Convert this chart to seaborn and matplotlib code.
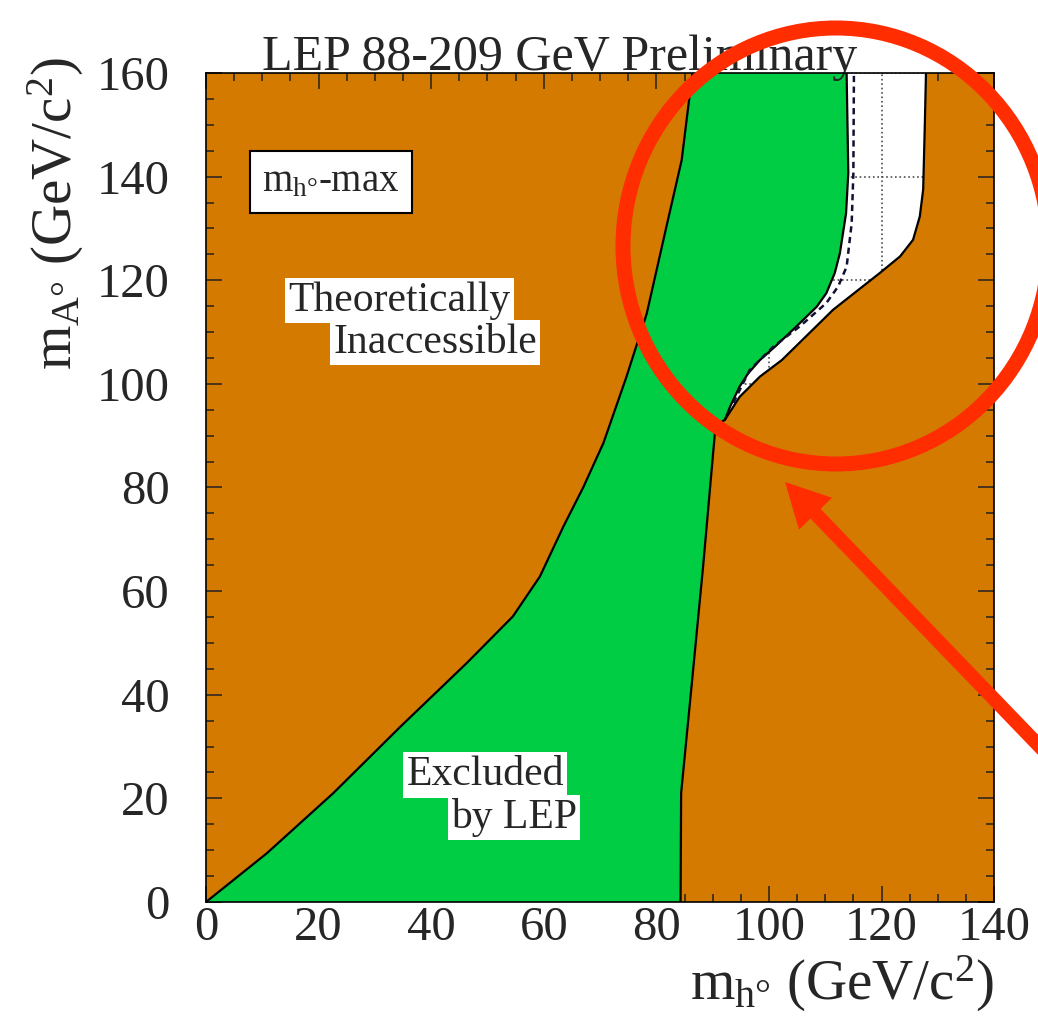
import numpy as np
import matplotlib
matplotlib.use("Agg")
import matplotlib.pyplot as plt
import matplotlib.patches as mpatches
import matplotlib.transforms as mtransforms
from matplotlib.ticker import MultipleLocator
import seaborn as sns

# theoretical limit on the left (upper-left region is inaccessible)
theory_x = [0, 10.8, 22.6, 34.5, 46.3, 54.5, 59.3, 63.5, 67.0, 70.6, 74.7, 78.3, 81.8, 84.5, 86.4]
theory_y = [0, 9.4, 21.0, 33.8, 46.1, 55.1, 62.8, 72.5, 80.0, 88.6, 101.4, 113.6, 130.4, 143.2, 160]

# LEP exclusion edge, low mA part
lep_low_x = [84.3, 84.4, 86.3, 88.3, 90.4, 91.0, 92.2]
lep_low_y = [0, 21.0, 42.2, 64.7, 90.5, 92.2, 93.1]

# LEP exclusion edge, high mA part (observed)
lep_up_x = [92.2, 93.1, 94.8, 96.3, 98.4, 101.1, 104.9, 108.5, 110.2, 111.7, 112.6, 113.7, 114.1, 113.8]
lep_up_y = [93.1, 95.6, 99.5, 102.0, 104.6, 107.2, 111.1, 114.9, 117.5, 121.4, 125.2, 132.9, 140.7, 160]

# expected limit (dashed)
exp_x = [93.7, 94.8, 96.6, 100.8, 105.5, 110.2, 112.3, 113.8, 114.7, 115.0, 115.1]
exp_y = [96.3, 98.8, 102.7, 107.2, 111.1, 115.6, 118.8, 122.6, 131.0, 140.7, 160]

# mh-max theoretical upper edge
mhmax_x = [92.2, 94.8, 98.4, 102.3, 111.4, 119.7, 123.3, 125.6, 126.8, 127.4, 127.7, 127.9]
mhmax_y = [93.1, 97.5, 101.4, 104.6, 114.3, 121.4, 124.6, 127.8, 132.3, 137.5, 150.3, 160]

x_ticks = [0, 20, 40, 60, 80, 100, 120, 140]
y_ticks = [0, 20, 40, 60, 80, 100, 120, 140, 160]

ORANGE = "#d47a00"
GREEN = "#00cc44"
RED = "#ff2d00"

sns.set_theme(style="ticks")
plt.rcParams["font.family"] = ["Liberation Serif", "DejaVu Serif"]
plt.rcParams["mathtext.fontset"] = "custom"
plt.rcParams["mathtext.rm"] = "Liberation Serif"
plt.rcParams["mathtext.it"] = "Liberation Serif:italic"

fig = plt.figure(figsize=(10.38, 10.28), dpi=100)
ax = fig.add_axes([0.1985, 0.1226, 0.7592, 0.8064])
ax.set_facecolor(ORANGE)

# excluded region (green)
gx = theory_x + lep_up_x[::-1] + lep_low_x[::-1]
gy = theory_y + lep_up_y[::-1] + lep_low_y[::-1]
ax.fill(gx, gy, color=GREEN, lw=0, zorder=1)

# still allowed region (white)
wx = lep_up_x + mhmax_x[::-1]
wy = lep_up_y + mhmax_y[::-1]
white = ax.fill(wx, wy, color="white", lw=0, zorder=1)[0]

# dotted grid, only visible inside the allowed region
for v in x_ticks:
    ln = ax.axvline(v, color="0.3", ls=":", lw=1.2, zorder=1.5)
    ln.set_clip_path(white)
for v in y_ticks:
    ln = ax.axhline(v, color="0.3", ls=":", lw=1.2, zorder=1.5)
    ln.set_clip_path(white)

for xs, ys in [(theory_x, theory_y), (lep_low_x, lep_low_y),
               (lep_up_x, lep_up_y), (mhmax_x, mhmax_y)]:
    sns.lineplot(x=xs, y=ys, sort=False, estimator=None, color="black",
                 lw=1.6, ax=ax, zorder=3)
sns.lineplot(x=exp_x, y=exp_y, sort=False, estimator=None, color="#111133",
             lw=1.8, ls=(0, (2.5, 1.8)), ax=ax, zorder=3)

ax.set_xlim(0, 140)
ax.set_ylim(0, 160)
ax.set_xticks(x_ticks)
ax.set_yticks(y_ticks)
ax.xaxis.set_minor_locator(MultipleLocator(5))
ax.yaxis.set_minor_locator(MultipleLocator(5))
ax.tick_params(which="both", direction="in", top=True, right=True,
               color="#222222", width=1.1, labelsize=35)
ax.tick_params(which="major", length=11.5)
ax.tick_params(which="minor", length=5.5)
ax.tick_params(axis="x", pad=3)
ax.tick_params(axis="y", pad=26)
for s in ax.spines.values():
    s.set_color("black")
    s.set_linewidth(1.2)
    s.set_zorder(4)

ax.set_xlabel(r"m$_{\mathrm{h°}}$ (GeV/c$^{2}$)", fontsize=41)
ax.xaxis.set_label_coords(1.0, -0.062)
ax.xaxis.label.set_ha("right")
ax.set_ylabel(r"m$_{\mathrm{A°}}$ (GeV/c$^{2}$)", fontsize=41)
ax.yaxis.set_label_coords(-0.152, 0.83)

ax.text(0.071, 1.004, "LEP 88-209 GeV Preliminary", transform=ax.transAxes,
        fontsize=36, ha="left", va="baseline")

box = dict(boxstyle="square,pad=0.08", fc="white", ec="none")
ax.text(22.2, 139, r"m$_{\mathrm{h°}}$-max", fontsize=28, ha="center", va="center",
        zorder=5, bbox=dict(boxstyle="square,pad=0.32", fc="white", ec="black", lw=1.5))
ax.text(34.3, 116.1, "Theoretically", fontsize=30, ha="center", va="center", zorder=5, bbox=box)
ax.text(40.7, 108.0, "Inaccessible", fontsize=30, ha="center", va="center", zorder=5, bbox=box)
ax.text(49.6, 24.5, "Excluded", fontsize=30, ha="center", va="center", zorder=5, bbox=box)
ax.text(54.7, 16.3, "by LEP", fontsize=30, ha="center", va="center", zorder=5, bbox=box)

# red highlight drawn over the figure (image pixel coordinates, origin top-left)
pix = mtransforms.Affine2D().scale(1 / 1038, -1 / 1028).translate(0, 1) + fig.transFigure
fig.add_artist(mpatches.Ellipse((836, 246), 426, 436, fill=False, ec=RED, lw=10.8,
                                transform=pix, zorder=10))
fig.add_artist(mpatches.FancyArrow(1045, 752, -260, -270, width=14, head_width=46,
                                   head_length=44, length_includes_head=True,
                                   color=RED, lw=0, transform=pix, zorder=10))

fig.savefig("out.png", dpi=100)
